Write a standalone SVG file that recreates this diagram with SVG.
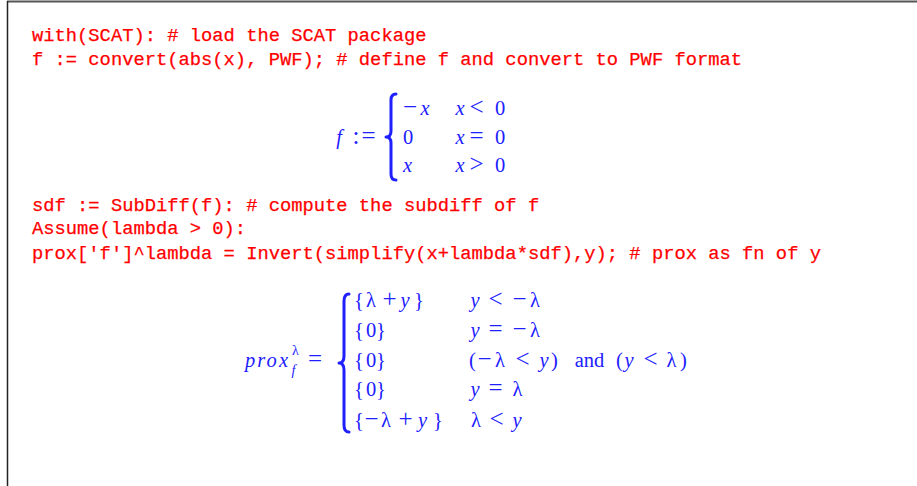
<svg xmlns="http://www.w3.org/2000/svg" width="917" height="486" viewBox="0 0 917 486">
<style>
.code{font-family:"Liberation Mono","DejaVu Sans Mono",monospace;font-size:18.8px;fill:#ff0000;stroke:#ff0000;stroke-width:0.25}
.m{font-family:"Liberation Serif","DejaVu Serif",serif;font-size:20.5px;fill:#2020ff;text-anchor:middle}
.i{font-style:italic}
.o{font-size:25px}
.brace{fill:none;stroke:#2020ff;stroke-width:3;stroke-linecap:round;stroke-linejoin:round}
</style>
<rect width="917" height="486" fill="#ffffff"/>
<line x1="7" y1="1.5" x2="917" y2="1.5" stroke="#555555" stroke-width="2"/>
<line x1="7.5" y1="1" x2="7.5" y2="486" stroke="#222222" stroke-width="1.5"/>
<g id="code1">
<text class="code" x="32" y="41">with(SCAT): # load the SCAT package</text>
<text class="code" x="32" y="65">f := convert(abs(x), PWF); # define f and convert to PWF format</text>
</g>
<g id="out1">
<text class="m" y="144"><tspan x="339" class="i">f</tspan><tspan x="356" class="o">:</tspan><tspan x="368.5" class="o">=</tspan></text>
<path class="brace" d="M396,94 Q391,94 391,100 L391,131 Q391,137 386,137 Q391,137 391,143 L391,174 Q391,180 396,180"/>
<text class="m" y="115"><tspan x="410" class="o">−</tspan><tspan x="425" class="i">x</tspan><tspan x="460" class="i">x</tspan><tspan x="476.5" class="o">&lt;</tspan><tspan x="500">0</tspan></text>
<text class="m" y="144"><tspan x="408">0</tspan><tspan x="460" class="i">x</tspan><tspan x="476.5" class="o">=</tspan><tspan x="500">0</tspan></text>
<text class="m" y="172"><tspan x="407.5" class="i">x</tspan><tspan x="460" class="i">x</tspan><tspan x="476.5" class="o">&gt;</tspan><tspan x="500">0</tspan></text>
</g>
<g id="code2">
<text class="code" x="32" y="211">sdf := SubDiff(f): # compute the subdiff of f</text>
<text class="code" x="32" y="234">Assume(lambda &gt; 0):</text>
<text class="code" x="32" y="259">prox['f']^lambda = Invert(simplify(x+lambda*sdf),y); # prox as fn of y</text>
</g>
<g id="out2">
<text class="m i" x="245" y="367" style="text-anchor:start" textLength="43">prox</text>
<text class="m" x="295.5" y="355" style="font-size:14px">λ</text>
<text class="m i" x="293.5" y="375" style="font-size:14px">f</text>
<text class="m o" x="315" y="367">=</text>
<path class="brace" d="M349,294 Q344,294 344,301 L344,356 Q344,363 339,363 Q344,363 344,370 L344,425 Q344,432 349,432"/>
<text class="m" y="307"><tspan x="359">{</tspan><tspan x="371">λ</tspan><tspan x="389.5" class="o">+</tspan><tspan x="405" class="i">y</tspan><tspan x="419">}</tspan><tspan x="475" class="i">y</tspan><tspan x="495.5" class="o">&lt;</tspan><tspan x="519.5" class="o">−</tspan><tspan x="535">λ</tspan></text>
<text class="m" y="337"><tspan x="359">{</tspan><tspan x="371">0</tspan><tspan x="381">}</tspan><tspan x="475" class="i">y</tspan><tspan x="495.5" class="o">=</tspan><tspan x="519.5" class="o">−</tspan><tspan x="535">λ</tspan></text>
<text class="m" y="367"><tspan x="359">{</tspan><tspan x="371">0</tspan><tspan x="381">}</tspan><tspan x="472.5">(</tspan><tspan x="484.5" class="o">−</tspan><tspan x="500">λ</tspan><tspan x="522.5" class="o">&lt;</tspan><tspan x="544" class="i">y</tspan><tspan x="554.5">)</tspan><tspan x="589.5">and</tspan><tspan x="619.5">(</tspan><tspan x="629" class="i">y</tspan><tspan x="650.5" class="o">&lt;</tspan><tspan x="671.5">λ</tspan><tspan x="683.5">)</tspan></text>
<text class="m" y="396"><tspan x="359">{</tspan><tspan x="371">0</tspan><tspan x="381">}</tspan><tspan x="475" class="i">y</tspan><tspan x="495.5" class="o">=</tspan><tspan x="517.5">λ</tspan></text>
<text class="m" y="427"><tspan x="359">{</tspan><tspan x="371.5" class="o">−</tspan><tspan x="386">λ</tspan><tspan x="405.5" class="o">+</tspan><tspan x="422.5" class="i">y</tspan><tspan x="438">}</tspan><tspan x="476">λ</tspan><tspan x="496.5" class="o">&lt;</tspan><tspan x="517" class="i">y</tspan></text>
</g>
</svg>
